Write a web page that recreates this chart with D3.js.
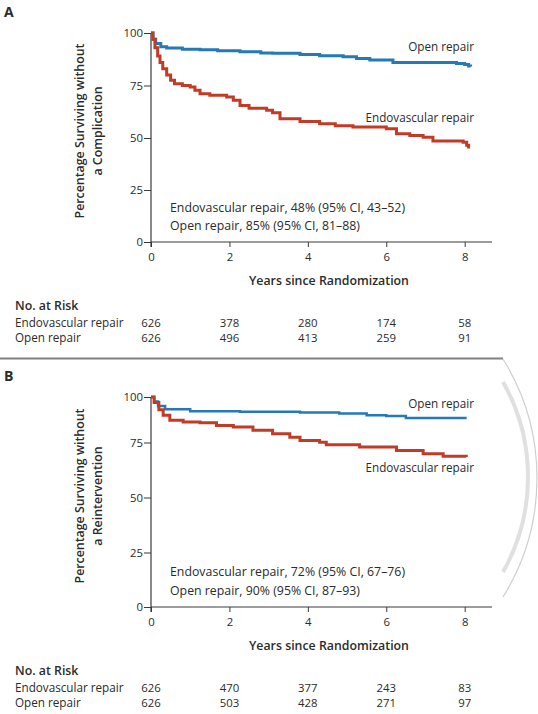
<!DOCTYPE html>
<html><head><meta charset="utf-8">
<script src="https://cdn.jsdelivr.net/npm/d3@7"></script>
<style>
html,body{margin:0;padding:0;background:#fff;}
svg{display:block;font-family:"Open Sans",sans-serif;}
</style></head>
<body><svg id="c" width="538" height="714"></svg>
<script>
// ---- data ----
const xTicks = [0, 2, 4, 6, 8];
const yTicks = [0, 25, 50, 75, 100];
const seriesNames = ["Endovascular repair", "Open repair"];

// Panel A: survival without complication (years, percent)
const aEndoT = [0,0.05,0.1,0.17,0.23,0.3,0.4,0.5,0.6,0.8,1.0,1.12,1.25,1.5,1.93,2.1,2.27,2.5,2.95,3.1,3.29,3.8,4.3,4.7,5.15,6.0,6.26,6.6,6.94,7.19,7.96,8.05,8.1];
const aEndoV = [100,97,93,89,86,83,80,77.5,75.8,75,74.3,72.7,71.1,70.3,69.5,68,65.5,64.2,63.2,62,59.2,57.9,56.8,55.8,55.2,54.4,52.0,51.2,50.4,48.5,48.0,46.5,45];
const aOpenT = [0,0.05,0.12,0.25,0.4,0.8,1.25,1.7,2.27,2.8,3.1,3.8,4.3,4.9,5.24,5.58,6.17,7.0,7.79,8.0,8.1,8.15];
const aOpenV = [100,97,95,93.5,92.8,92.3,92.0,91.5,91.1,90.5,90.3,89.8,89.2,88.7,87.9,87.1,86.0,85.9,85.5,85.0,84.3,84.0];
const aRiskEndo = [626, 378, 280, 174, 58];
const aRiskOpen = [626, 496, 413, 259, 91];
const aNotes = ["Endovascular repair, 48% (95% CI, 43\u201352)", "Open repair, 85% (95% CI, 81\u201388)"];

// Panel B: survival without reintervention
const bEndoT = [0,0.08,0.2,0.31,0.48,0.82,1.25,1.67,2.1,2.6,3.1,3.54,3.8,4.3,4.47,5.32,6.26,6.94,7.45,8.04];
const bEndoV = [100,97,93,90,87.2,86.3,85.9,84.4,83.5,81.7,79.8,77.9,76.1,75.2,74,72.9,71.4,69.9,68.8,68.4];
const bOpenT = [0,0.08,0.18,0.36,1.0,2.27,3.8,4.8,5.5,6.0,6.5,8.05];
const bOpenV = [100,97.5,95,93.3,92.2,91.9,91.5,90.9,90,89.5,88.5,88.5];
const bRiskEndo = [626, 470, 377, 243, 83];
const bRiskOpen = [626, 503, 428, 271, 97];
const bNotes = ["Endovascular repair, 72% (95% CI, 67\u201376)", "Open repair, 90% (95% CI, 87\u201393)"];

// ---- drawing ----
const svg = d3.select("#c");
const BLUE = "#2479b6", RED = "#c23b26", TXT = "#2b2b2b", AX = "#3a3a3a";

function panel(o) {
  const g = svg.append("g");
  const x = d3.scaleLinear().domain([0, 8]).range([151, 464.7]);
  const y = d3.scaleLinear().domain(yTicks).range(o.yRange);
  const y0 = y(0);
  const A = o.letter === "A";

  g.append("text").attr("x", 4).attr("y", o.top).attr("font-size", 14).attr("font-weight", 700)
    .attr("fill", TXT).attr("dominant-baseline", "central").text(o.letter);

  const ya = g.append("g").attr("transform", "translate(151,0)")
    .call(d3.axisLeft(y).tickValues(yTicks).tickSize(7).tickPadding(1).tickFormat(d3.format("d")));
  const xa = g.append("g").attr("transform", `translate(0,${y0})`)
    .call(d3.axisBottom(x).tickValues(xTicks).tickSize(5).tickPadding(3));
  [ya, xa].forEach(a => {
    a.select(".domain").remove();
    a.selectAll("line").attr("stroke", AX).attr("stroke-width", 1);
    a.selectAll("text").attr("class", "num").attr("fill", TXT).attr("font-family", "Open Sans");
  });
  if (A) ya.selectAll("text").filter(d => d === 100).classed("nprobe", true);
  xa.selectAll("text").attr("dy", null).attr("y", 14.5).attr("dominant-baseline", "central");
  g.append("line").attr("x1", 151).attr("x2", 151).attr("y1", y(100)).attr("y2", y0 + 5)
    .attr("stroke", AX).attr("stroke-width", 1.2);
  g.append("line").attr("x1", 151).attr("x2", 492).attr("y1", y0).attr("y2", y0)
    .attr("stroke", AX).attr("stroke-width", 1.2);

  const yt = g.append("text").attr("transform", `translate(88,${o.yTitleY}) rotate(-90)`)
    .attr("class", "ytitle").attr("text-anchor", "middle").attr("font-weight", 600).attr("fill", TXT);
  yt.append("tspan").attr("x", 0).attr("y", -4.5).text("Percentage Surviving without");
  yt.append("tspan").attr("x", 0).attr("y", 13.5).text(o.yTitle2);

  const line = d3.line().x(d => x(d[0])).y(d => y(d[1])).curve(d3.curveStepAfter);
  const mk = (T, V) => T.map((t, i) => [t, V[i]]);
  g.append("path").datum(mk(o.openT, o.openV)).attr("d", line)
    .attr("fill", "none").attr("stroke", BLUE).attr("stroke-width", o.lw[0]);
  g.append("path").datum(mk(o.endoT, o.endoV)).attr("d", line)
    .attr("fill", "none").attr("stroke", RED).attr("stroke-width", o.lw[1]);

  g.append("text").attr("class", "lab").attr("x", 474).attr("y", o.openLabY).attr("text-anchor", "end")
    .attr("dominant-baseline", "central").attr("fill", TXT).text(seriesNames[1]);
  g.append("text").attr("class", A ? "lab lprobe" : "lab").attr("x", 474).attr("y", o.endoLabY).attr("text-anchor", "end")
    .attr("dominant-baseline", "central").attr("fill", TXT).text(seriesNames[0]);

  o.notes.forEach((t, i) => g.append("text").attr("class", i === 0 && A ? "note probe" : "note")
    .attr("x", 170).attr("y", o.noteY[i])
    .attr("dominant-baseline", "central").attr("fill", TXT).text(t));

  g.append("text").attr("class", A ? "bold bprobe" : "bold").attr("x", 329).attr("y", y0 + 38.5)
    .attr("text-anchor", "middle").attr("dominant-baseline", "central").attr("font-weight", 600)
    .attr("fill", TXT).text("Years since Randomization");

  const rt = y0 + 63.5;
  g.append("text").attr("class", "bold").attr("x", 15).attr("y", rt).attr("dominant-baseline", "central")
    .attr("font-weight", 600).attr("fill", TXT).text("No. at Risk");
  [[seriesNames[0], o.riskEndo], [seriesNames[1], o.riskOpen]].forEach(([name, vals], r) => {
    const yy = rt + 16.5 + r * 15.5;
    g.append("text").attr("class", "lab").attr("x", 15).attr("y", yy).attr("dominant-baseline", "central")
      .attr("fill", TXT).text(name);
    vals.forEach((v, i) => g.append("text").attr("class", "num").attr("x", x(xTicks[i])).attr("y", yy)
      .attr("text-anchor", "middle").attr("dominant-baseline", "central")
      .attr("fill", TXT).text(v));
  });
}

panel({letter: "A", top: 11, yRange: [242, 190, 138, 85.5, 33], yTitleY: 131, yTitle2: "a Complication",
  openT: aOpenT, openV: aOpenV, endoT: aEndoT, endoV: aEndoV, lw: [3, 3],
  openLabY: 46, endoLabY: 117, notes: aNotes, noteY: [207, 225],
  riskEndo: aRiskEndo, riskOpen: aRiskOpen});

svg.append("line").attr("x1", 0).attr("x2", 503).attr("y1", 358.5).attr("y2", 358.5)
  .attr("stroke", "#808080").attr("stroke-width", 2);

panel({letter: "B", top: 375, yRange: [607, 552.5, 497.5, 442.5, 397], yTitleY: 496, yTitle2: "a Reintervention",
  openT: bOpenT, openV: bOpenV, endoT: bEndoT, endoV: bEndoV, lw: [2.5, 3],
  openLabY: 403, endoLabY: 467, notes: bNotes, noteY: [571, 590],
  riskEndo: bRiskEndo, riskOpen: bRiskOpen});

// fit font sizes to the reference's measured text widths
function fit(sel, probeSel, target) {
  svg.selectAll(sel).attr("font-size", 10);
  const w = svg.select(probeSel).node().getComputedTextLength();
  svg.selectAll(sel).attr("font-size", (10 * target / w).toFixed(2));
}
fit(".note", ".probe", 235);
fit(".lab", ".lprobe", 108.5);
fit(".num", ".nprobe", 19.5);
fit(".bold", ".bprobe", 160);
fit(".ytitle", ".ytitle tspan", 175);

// page-curl arcs at right
const arc = (cx, cy, r, y1, y2) => {
  const a1 = Math.asin((y1 - cy) / r), a2 = Math.asin((y2 - cy) / r);
  return `M${cx + r * Math.cos(a1)},${y1} A${r},${r} 0 0 1 ${cx + r * Math.cos(a2)},${y2}`;
};
svg.append("path").attr("d", arc(312, 478, 225, 359, 597)).attr("fill", "none")
  .attr("stroke", "#cfcfcf").attr("stroke-width", 1.2);
svg.append("path").attr("d", arc(335, 477, 193, 382, 572)).attr("fill", "none")
  .attr("stroke", "#e0e0e0").attr("stroke-width", 4);
</script></body></html>
